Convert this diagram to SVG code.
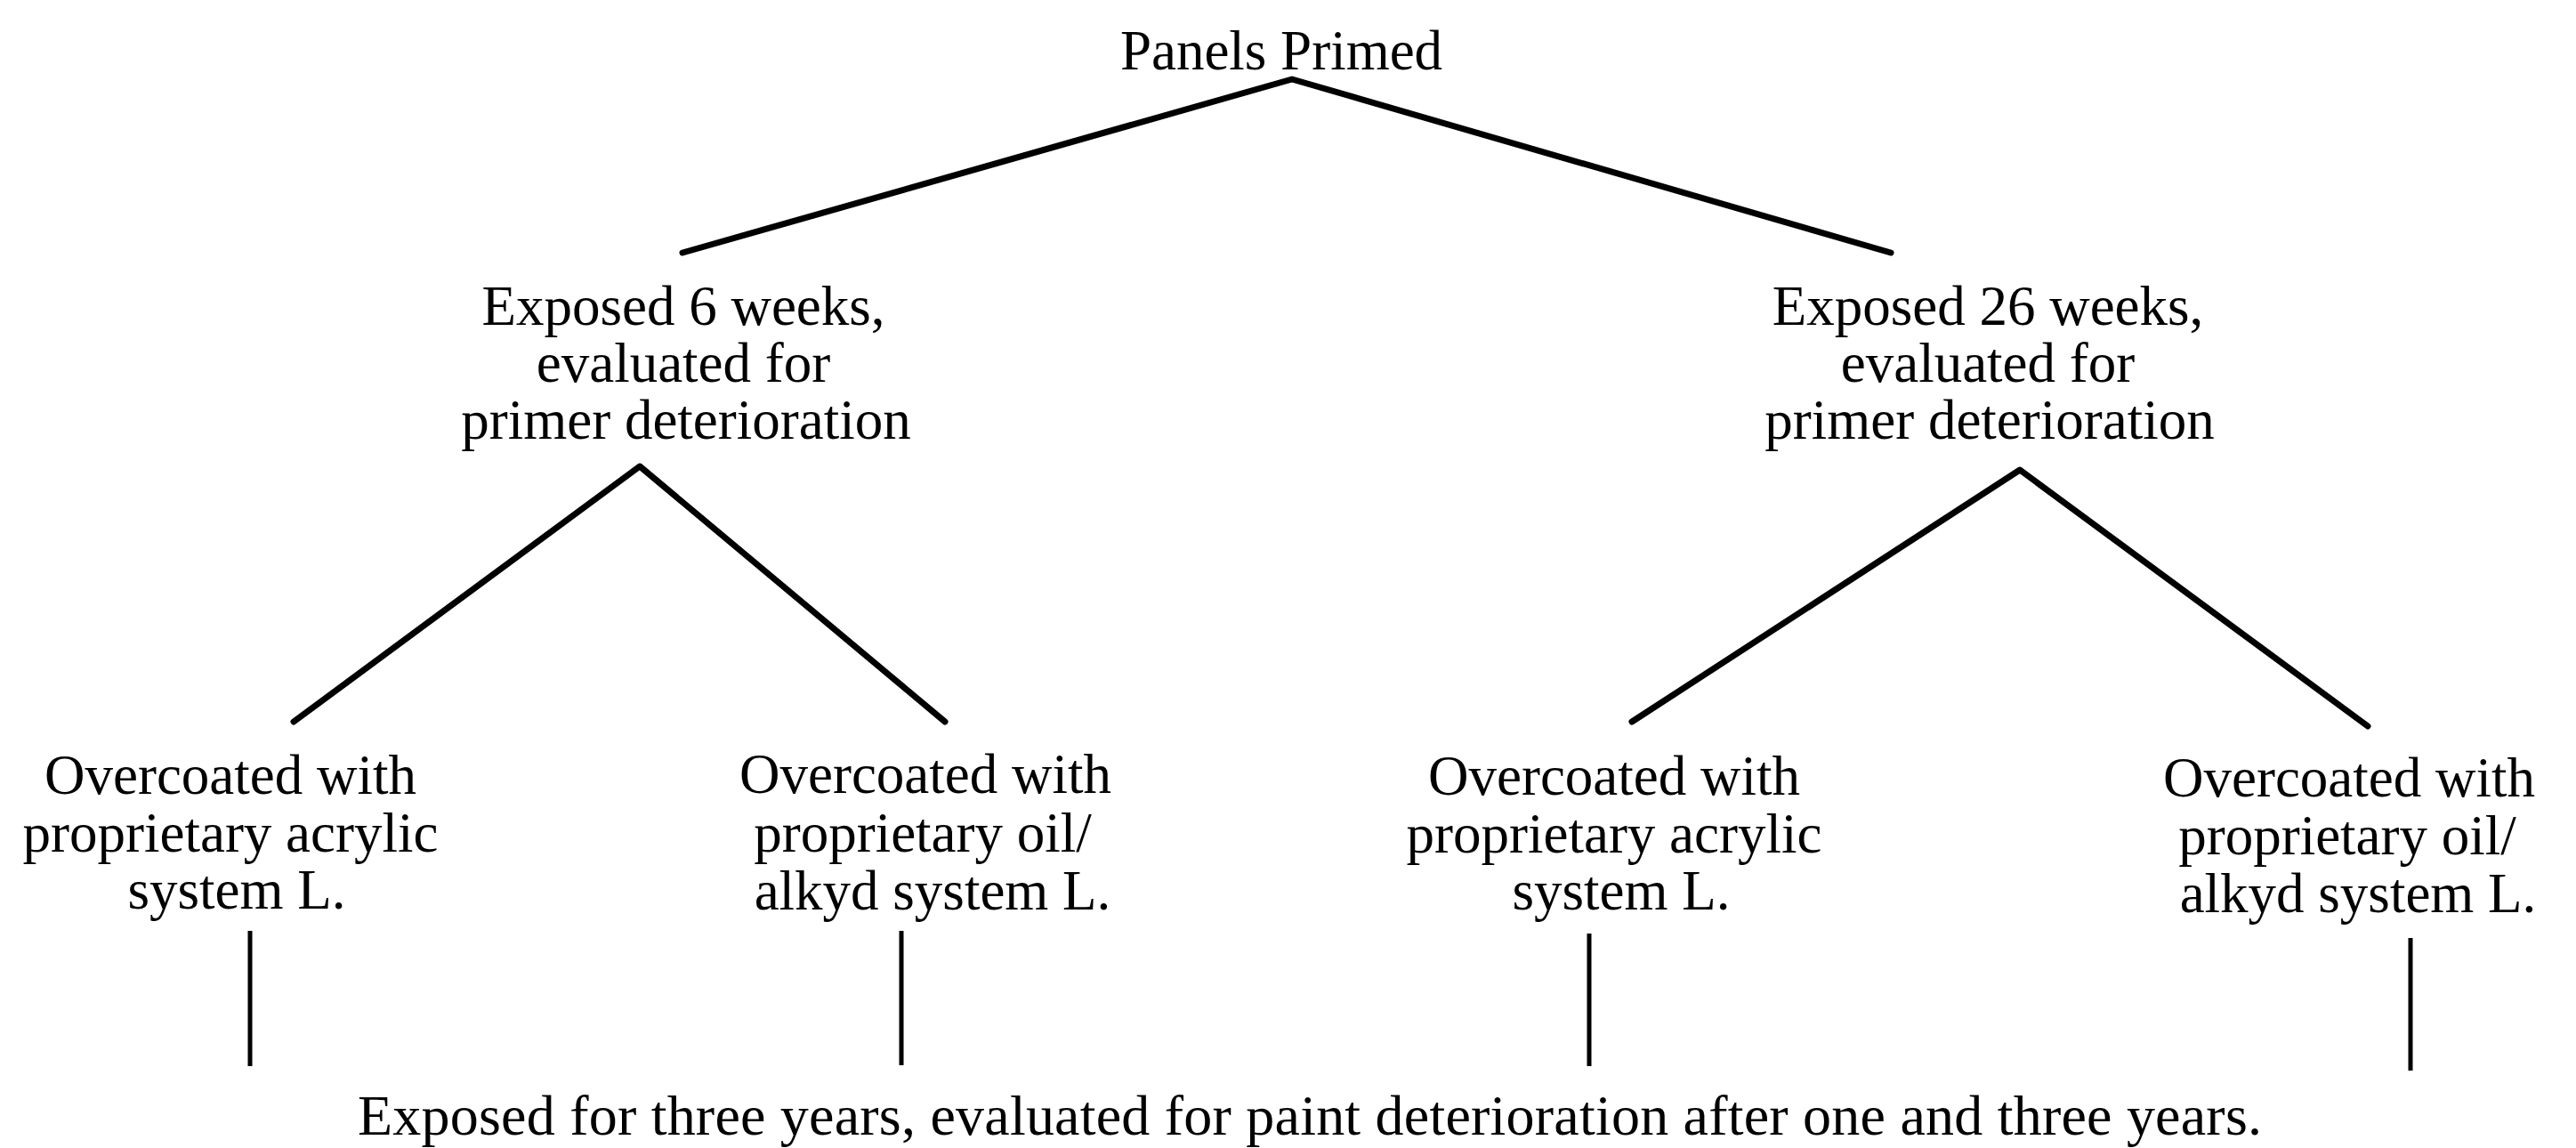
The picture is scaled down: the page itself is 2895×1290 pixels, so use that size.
<svg xmlns="http://www.w3.org/2000/svg" width="2895" height="1290" viewBox="0 0 2895 1290">
  <style>
    text { font-family: "Liberation Serif", "Times New Roman", serif; font-size: 63px; fill: #000; text-anchor: middle; }
    .footer { font-size: 64px; }
    .branch { fill: none; stroke: #000; stroke-width: 7; stroke-linejoin: round; stroke-linecap: round; }
    .drop { fill: none; stroke: #000; stroke-width: 5; stroke-linecap: butt; }
  </style>
  <rect width="2895" height="1290" fill="#fff"/>

  <!-- tree branches and drop lines -->
  <g id="connectors">
    <polyline class="branch" points="767,284 1452,89 2125,284"/>
    <polyline class="branch" points="330,811 719,524 1062,811"/>
    <polyline class="branch" points="1834,811 2270,528 2661,816"/>
    <line class="drop" x1="281" y1="1046" x2="281" y2="1198"/>
    <line class="drop" x1="1013" y1="1046" x2="1013" y2="1197"/>
    <line class="drop" x1="1786" y1="1049" x2="1786" y2="1198"/>
    <line class="drop" x1="2709" y1="1054" x2="2709" y2="1203"/>
  </g>

  <g id="node-panels-primed">
    <text x="1440" y="78">Panels Primed</text>
  </g>

  <g id="node-exposed-6">
    <text x="768" y="365">Exposed 6 weeks,</text>
    <text x="768" y="429">evaluated for</text>
    <text x="771" y="493">primer deterioration</text>
  </g>

  <g id="node-exposed-26">
    <text x="2234" y="365">Exposed 26 weeks,</text>
    <text x="2234" y="429">evaluated for</text>
    <text x="2236" y="493">primer deterioration</text>
  </g>

  <g id="node-acrylic-6">
    <text x="259" y="892">Overcoated with</text>
    <text x="259" y="957">proprietary acrylic</text>
    <text x="266" y="1021">system L.</text>
  </g>

  <g id="node-alkyd-6">
    <text x="1040" y="891">Overcoated with</text>
    <text x="1037" y="957">proprietary oil/</text>
    <text x="1048" y="1022">alkyd system L.</text>
  </g>

  <g id="node-acrylic-26">
    <text x="1814" y="893">Overcoated with</text>
    <text x="1814" y="958">proprietary acrylic</text>
    <text x="1822" y="1022">system L.</text>
  </g>

  <g id="node-alkyd-26">
    <text x="2640" y="895">Overcoated with</text>
    <text x="2638" y="960">proprietary oil/</text>
    <text x="2650" y="1025">alkyd system L.</text>
  </g>

  <g id="node-final-exposure">
    <text class="footer" x="1472" y="1275" textLength="2140" lengthAdjust="spacing">Exposed for three years, evaluated for paint deterioration after one and three years.</text>
  </g>
</svg>
